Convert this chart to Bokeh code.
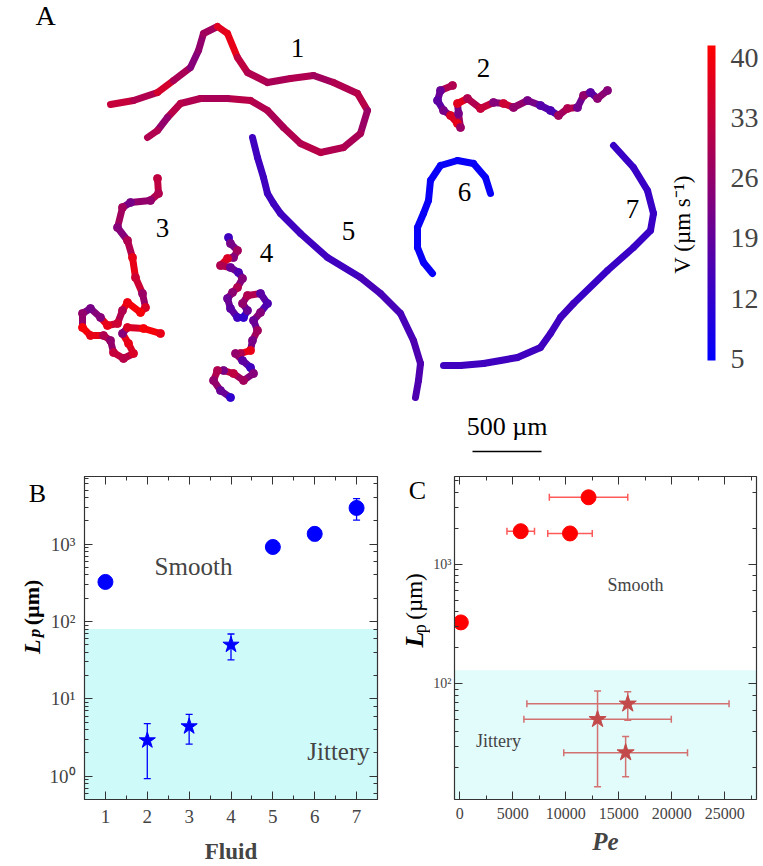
import math
from bokeh.plotting import figure
from bokeh.layouts import column, row
from bokeh.models import (Range1d, ColumnDataSource, LinearColorMapper, ColorBar, FixedTicker,
                          LogAxis, LinearAxis, Label, BoxAnnotation, Whisker, TeeHead,
                          CustomJSTickFormatter, SingleIntervalTicker, LogTicker)
from bokeh.transform import transform
from bokeh.embed import file_html
from bokeh.resources import INLINE
from bokeh.core.properties import value

SERIF = "Liberation Serif"

# ---------------- Panel A: trajectories (image coordinates, px) and speeds (um/s)
t1_x = [110, 133, 157, 173, 190, 198, 203, 217, 227, 237, 247, 267, 290, 313, 333, 357, 367, 360, 343, 320, 300, 283, 267, 250, 227, 200, 180, 167, 157, 147]
t1_y = [104, 100, 92, 80, 67, 50, 33, 26, 33, 57, 72, 82, 78, 75, 82, 93, 110, 133, 147, 152, 143, 127, 110, 100, 98, 98, 103, 117, 130, 137]
t1_v = [33, 30, 35, 29, 24, 26, 28, 37, 38, 32, 30, 29, 30, 28, 30, 31, 27, 29, 30, 31, 30, 29, 30, 31, 29, 30, 31, 26, 30, 36]

t2_x = [452, 440, 437, 443, 450, 457, 460, 458, 457, 467, 480, 493, 503, 513, 527, 540, 550, 558, 567, 577, 583, 590, 597, 607]
t2_y = [85, 90, 100, 110, 115, 123, 127, 113, 103, 98, 108, 102, 103, 107, 100, 105, 110, 115, 108, 107, 95, 92, 98, 90]
t2_v = [30, 20, 18, 22, 36, 38, 27, 22, 37, 30, 33, 24, 34, 26, 22, 17, 16, 28, 30, 21, 26, 18, 25, 24]

t3_x = [157, 158, 150, 130, 122, 117, 127, 132, 135, 142, 145, 140, 127, 122, 117, 107, 100, 90, 82, 82, 90, 103, 110, 113, 123, 133, 128, 122, 127, 143, 160]
t3_y = [178, 193, 200, 202, 207, 227, 240, 257, 277, 293, 307, 312, 302, 310, 323, 325, 317, 308, 313, 327, 335, 335, 340, 352, 358, 353, 343, 333, 327, 328, 333]
t3_v = [32, 30, 26, 22, 28, 24, 30, 38, 34, 27, 36, 40, 39, 30, 34, 38, 24, 22, 26, 40, 38, 30, 26, 33, 31, 36, 38, 24, 36, 40, 38]

t4_x = [228, 230, 237, 233, 227, 220, 230, 238, 242, 237, 232, 227, 230, 237, 243, 247, 242, 247, 260, 267, 260, 253, 257, 252, 250, 240, 235, 242, 250, 253, 243, 233, 223, 217, 213, 220, 230]
t4_y = [237, 243, 250, 257, 258, 265, 267, 272, 278, 287, 292, 298, 308, 317, 317, 310, 303, 295, 293, 303, 312, 320, 330, 340, 350, 353, 353, 360, 367, 373, 380, 373, 370, 370, 380, 390, 397]
t4_v = [14, 22, 28, 24, 36, 30, 20, 16, 24, 30, 25, 20, 18, 14, 12, 20, 26, 30, 18, 16, 24, 20, 28, 22, 38, 30, 26, 18, 14, 24, 28, 32, 22, 30, 26, 20, 12]

t5_x = [252, 257, 263, 267, 273, 280, 300, 327, 360, 380, 400, 413, 420, 418, 415]
t5_y = [137, 157, 177, 193, 203, 213, 233, 257, 277, 293, 313, 340, 363, 380, 397]
t5_v = [14, 14, 14, 14, 14, 14, 14, 14, 15, 15, 15, 16, 16, 16, 16]

t6_x = [490, 485, 473, 457, 440, 430, 428, 423, 417, 417, 423, 432]
t6_y = [193, 177, 163, 160, 165, 180, 200, 213, 227, 247, 262, 273]
t6_v = [6, 6, 6, 6, 6, 6, 6, 6, 6, 6, 6, 6]

t7_x = [613, 633, 647, 653, 650, 633, 607, 573, 560, 550, 540, 517, 483, 460, 443]
t7_y = [145, 167, 190, 213, 230, 247, 270, 303, 317, 333, 347, 357, 363, 365, 365]
t7_v = [13, 13, 13, 13, 13, 13, 13, 14, 14, 14, 14, 14, 14, 14, 14]

track_labels = ["1", "2", "3", "4", "5", "6", "7"]
label_x = [297, 483, 162, 266, 348, 464, 632]
label_y = [47, 67, 227, 252, 230, 191, 208]

cbar_ticks = [5, 12, 19, 26, 33, 40]
scale_bar_um = 500
scale_bar_px = 69

# ---------------- Panel B
fluid = [1, 2, 3, 4, 5, 6, 7]
b_lp = [325, 2.9, 4.4, 50, 920, 1360, 2940]
b_lo = [300, 0.93, 2.6, 32, 880, 1110, 2050]
b_hi = [350, 4.8, 6.3, 69, 960, 1500, 3880]
b_kind = ["circle", "star", "star", "star", "circle", "circle", "circle"]
b_threshold = 80

# ---------------- Panel C
c_s_pe = [100, 5750, 10400, 12150]
c_s_lp = [326, 1885, 1805, 3620]
c_s_pe_err = [0, 1300, 2100, 3700]

c_j_pe = [15850, 13000, 15650]
c_j_lp = [68, 50.5, 26.6]
c_j_pe_lo = [6330, 6050, 9810]
c_j_pe_hi = [25410, 19960, 21490]
c_j_lp_lo = [49.6, 13.8, 16.7]
c_j_lp_hi = [86, 87, 36.3]
c_threshold = 130

# ======================================================================
palette = ["#%02x00%02x" % (i, 255 - i) for i in range(256)]
mapper = LinearColorMapper(palette=palette, low=4.8, high=41.4)


def blank(width, height, xr, yr):
    f = figure(width=width, height=height, x_range=Range1d(*xr), y_range=Range1d(*yr),
               output_backend="svg", toolbar_location=None, min_border=0,
               x_axis_location=None, y_axis_location=None, outline_line_color=None)
    f.grid.visible = False
    return f


pA = blank(763, 460, (0, 763), (460, 0))


def segments(xs, ys, vs):
    return ColumnDataSource(dict(
        xs=[[xs[i], xs[i + 1]] for i in range(len(xs) - 1)],
        ys=[[ys[i], ys[i + 1]] for i in range(len(ys) - 1)],
        v=vs[:-1]))


tracks = [(t1_x, t1_y, t1_v, False), (t2_x, t2_y, t2_v, True), (t3_x, t3_y, t3_v, True),
          (t4_x, t4_y, t4_v, True), (t5_x, t5_y, t5_v, False), (t6_x, t6_y, t6_v, False),
          (t7_x, t7_y, t7_v, False)]
for xs, ys, vs, beads in tracks:
    pA.multi_line(xs="xs", ys="ys", source=segments(xs, ys, vs),
                  line_color=transform("v", mapper), line_width=7,
                  line_cap="round", line_join="round")
    if beads:
        pA.scatter(x="x", y="y", source=ColumnDataSource(dict(x=xs, y=ys, v=vs)),
                   size=8, fill_color=transform("v", mapper),
                   line_color=transform("v", mapper), line_width=1)

pA.text(x=label_x, y=label_y, text=track_labels, text_font=value(SERIF),
        text_font_size="27px", text_align="center", text_baseline="middle", color="black")
pA.text(x=[45], y=[15], text=["A"], text_font=value(SERIF), text_font_size="28px",
        text_align="center", text_baseline="middle", color="black")

# scale bar
sb_x0 = 472
pA.segment(x0=[sb_x0], y0=[451], x1=[sb_x0 + scale_bar_px], y1=[451], line_color="black", line_width=1.5)
pA.text(x=[sb_x0 + scale_bar_px / 2], y=[426], text=[f"{scale_bar_um} µm"], text_font=value(SERIF),
        text_font_size="26px", text_align="center", text_baseline="middle", color="black")

cb = ColorBar(color_mapper=mapper, ticker=FixedTicker(ticks=cbar_ticks), width=8, height=315,
              location=(707, 100), padding=0, margin=0, label_standoff=15,
              major_label_text_font=SERIF, major_label_text_font_size="28px",
              major_tick_line_color=None, minor_tick_line_color=None, bar_line_color=None,
              border_line_color=None, background_fill_color=None)
pA.add_layout(cb)
pA.text(x=[682], y=[224], text=["V (µm s⁻¹)"], text_font=value(SERIF), text_font_size="23px",
        angle=math.pi / 2, text_align="center", text_baseline="middle", color="black")

# ======================================================================
AX = "#333333"
sup_fmt = CustomJSTickFormatter(code="""
const e = Math.round(Math.log10(tick));
const m = {'0':'\u2070','1':'\u00b9','2':'\u00b2','3':'\u00b3','4':'\u2074','-':'\u207b'};
return '10' + String(e).split('').map(c => m[c]).join('');
""")
empty_fmt = CustomJSTickFormatter(code="return '';")


def style(ax, size, standoff):
    ax.major_tick_in = 8
    ax.major_tick_out = 0
    ax.minor_tick_in = 4
    ax.minor_tick_out = 0
    ax.axis_line_color = AX
    ax.major_tick_line_color = AX
    ax.minor_tick_line_color = AX
    ax.axis_line_width = 1.2
    ax.major_label_text_font = SERIF
    ax.major_label_text_font_size = size
    ax.major_label_standoff = standoff


ROW_Y = (866, 460)

# ---------------- B side labels
sideB = blank(46, 406, (0, 46), ROW_Y)
sideB.text(x=[37], y=[481], text=["B"], text_font=value(SERIF), text_font_size="26px",
           text_align="center", text_baseline="middle", color="black")
sideB.text(x=[31], y=[683], text=["L"], text_font=value(SERIF), text_font_style="bold italic",
           text_font_size="24px", angle=math.pi / 2, text_align="left", text_baseline="alphabetic",
           color="black")
sideB.text(x=[34], y=[662], text=["p"], text_font=value(SERIF), text_font_style="bold italic",
           text_font_size="17px", angle=math.pi / 2, text_align="left", text_baseline="alphabetic",
           color="black")
sideB.text(x=[31], y=[647], text=["(µm)"], text_font=value(SERIF), text_font_style="bold",
           text_font_size="22px", angle=math.pi / 2, text_align="left", text_baseline="alphabetic",
           color="black")

# ---------------- B
pB = figure(width=344, height=406, x_range=Range1d(0.5, 7.5), y_range=Range1d(0.5, 7500),
            y_axis_type="log", output_backend="svg", toolbar_location=None,
            min_border_left=32, min_border_right=13, min_border_top=16, min_border_bottom=63,
            outline_line_color=AX)
pB.grid.visible = False
xtB = FixedTicker(ticks=fluid, minor_ticks=[f - 0.5 for f in fluid] + [7.5])
pB.xaxis.ticker = xtB
pB.yaxis.formatter = sup_fmt
style(pB.xaxis[0], "19px", 10)
style(pB.yaxis[0], "19px", 9)
pB.xaxis.axis_label = "Fluid"
pB.xaxis.axis_label_text_font = SERIF
pB.xaxis.axis_label_text_font_style = "bold"
pB.xaxis.axis_label_text_font_size = "23px"
pB.xaxis.axis_label_standoff = 13
topB = LinearAxis(ticker=xtB, formatter=empty_fmt)
rightB = LogAxis(ticker=LogTicker(), formatter=empty_fmt)
style(topB, "1px", 0)
style(rightB, "1px", 0)
pB.add_layout(topB, "above")
pB.add_layout(rightB, "right")

pB.add_layout(BoxAnnotation(top=b_threshold, fill_color="#cffafa", fill_alpha=1, line_color=None,
                            level="underlay"))
srcB = ColumnDataSource(dict(x=fluid, y=b_lp, lo=b_lo, hi=b_hi, m=b_kind,
                             s=[15 if k == "circle" else 17 for k in b_kind]))
pB.add_layout(Whisker(source=srcB, base="x", lower="lo", upper="hi", dimension="height",
                      line_color="blue", line_width=1.3,
                      upper_head=TeeHead(size=7, line_color="blue", line_width=1.3),
                      lower_head=TeeHead(size=7, line_color="blue", line_width=1.3)))
pB.scatter(x="x", y="y", marker="m", size="s", source=srcB, fill_color="blue", line_color="blue")

pB.add_layout(Label(x=109, y=233, x_units="screen", y_units="screen", text="Smooth", text_font=SERIF,
                    text_font_size="25px", text_align="center", text_baseline="middle"))
pB.add_layout(Label(x=254, y=48, x_units="screen", y_units="screen", text="Jittery", text_font=SERIF,
                    text_font_size="25px", text_align="center", text_baseline="middle"))

# ---------------- C side labels
sideC = blank(40, 406, (390, 430), ROW_Y)
sideC.text(x=[417], y=[478], text=["C"], text_font=value(SERIF), text_font_size="26px",
           text_align="center", text_baseline="middle", color="black")
sideC.text(x=[414], y=[675], text=["L"], text_font=value(SERIF), text_font_style="bold italic",
           text_font_size="26px", angle=math.pi / 2, text_align="left", text_baseline="alphabetic",
           color="black")
sideC.text(x=[419], y=[657], text=["p"], text_font=value(SERIF),
           text_font_size="18px", angle=math.pi / 2, text_align="left", text_baseline="alphabetic",
           color="black")
sideC.text(x=[414], y=[640], text=["(µm)"], text_font=value(SERIF),
           text_font_size="23px", angle=math.pi / 2, text_align="left", text_baseline="alphabetic",
           color="black")

# ---------------- C
pC = figure(width=333, height=406, x_range=Range1d(-500, 28000), y_range=Range1d(10.8, 5400),
            y_axis_type="log", output_backend="svg", toolbar_location=None,
            min_border_left=23, min_border_right=7, min_border_top=13, min_border_bottom=60,
            outline_line_color=AX)
pC.grid.visible = False
xtC = SingleIntervalTicker(interval=5000, num_minor_ticks=2)
pC.xaxis.ticker = xtC
pC.yaxis.formatter = sup_fmt
style(pC.xaxis[0], "16px", 8)
style(pC.yaxis[0], "14px", 3)
pC.xaxis.axis_label = "Pe"
pC.xaxis.axis_label_text_font = SERIF
pC.xaxis.axis_label_text_font_style = "bold italic"
pC.xaxis.axis_label_text_font_size = "25px"
pC.xaxis.axis_label_standoff = 6
topC = LinearAxis(ticker=SingleIntervalTicker(interval=5000, num_minor_ticks=2), formatter=empty_fmt)
rightC = LogAxis(ticker=LogTicker(), formatter=empty_fmt)
style(topC, "1px", 0)
style(rightC, "1px", 0)
pC.add_layout(topC, "above")
pC.add_layout(rightC, "right")

pC.add_layout(BoxAnnotation(top=c_threshold, fill_color="#e2fcfc", fill_alpha=1, line_color=None,
                            level="underlay"))

RED_ERR = "#ff5a5a"
idx = [i for i, e in enumerate(c_s_pe_err) if e > 0]
srcCs_err = ColumnDataSource(dict(y=[c_s_lp[i] for i in idx],
                                  lo=[c_s_pe[i] - c_s_pe_err[i] for i in idx],
                                  hi=[c_s_pe[i] + c_s_pe_err[i] for i in idx]))
pC.add_layout(Whisker(source=srcCs_err, base="y", lower="lo", upper="hi", dimension="width",
                      line_color=RED_ERR, line_width=1.5,
                      upper_head=TeeHead(size=7, line_color=RED_ERR, line_width=1.5),
                      lower_head=TeeHead(size=7, line_color=RED_ERR, line_width=1.5)))
pC.scatter(x=c_s_pe, y=c_s_lp, marker="circle", size=15, fill_color="#ff0000", line_color="#ff0000")

STAR = "#c24a4a"
STAR_ERR = "#d37070"
srcCj = ColumnDataSource(dict(x=c_j_pe, y=c_j_lp, xlo=c_j_pe_lo, xhi=c_j_pe_hi,
                              ylo=c_j_lp_lo, yhi=c_j_lp_hi))
for dim, base, lo, hi in [("width", "y", "xlo", "xhi"), ("height", "x", "ylo", "yhi")]:
    pC.add_layout(Whisker(source=srcCj, base=base, lower=lo, upper=hi, dimension=dim,
                          line_color=STAR_ERR, line_width=1.5,
                          upper_head=TeeHead(size=7, line_color=STAR_ERR, line_width=1.5),
                          lower_head=TeeHead(size=7, line_color=STAR_ERR, line_width=1.5)))
pC.scatter(x="x", y="y", source=srcCj, marker="star", size=18, fill_color=STAR, line_color=STAR)

pC.add_layout(Label(x=181, y=215, x_units="screen", y_units="screen", text="Smooth", text_font=SERIF,
                    text_font_size="18px", text_align="center", text_baseline="middle"))
pC.add_layout(Label(x=44, y=59, x_units="screen", y_units="screen", text="Jittery", text_font=SERIF,
                    text_font_size="18px", text_align="center", text_baseline="middle"))

layout = column(pA, row(sideB, pB, sideC, pC))
open("out.html", "w").write(file_html(layout, INLINE))
